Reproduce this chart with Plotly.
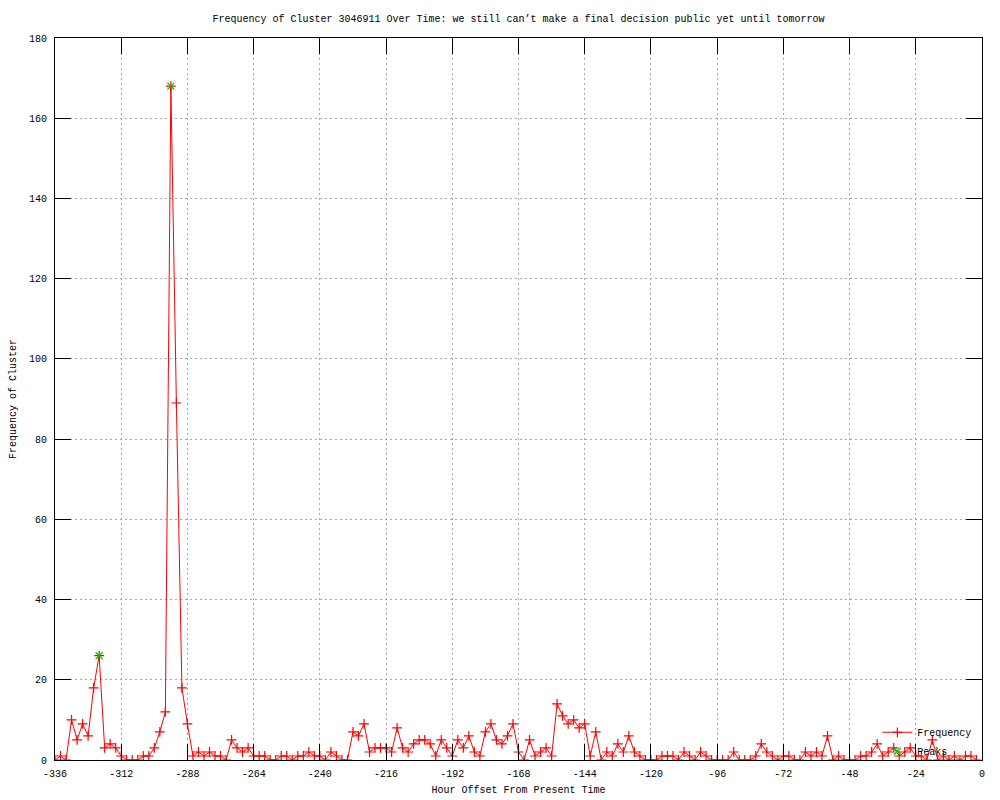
import plotly.graph_objects as go

# Hour offsets (every 2 hours) and observed frequencies
hours = list(range(-336, 0, 2))
frequency = [
    0, 1, 0, 10, 5, 9, 6, 18, 26, 3, 4, 3, 1, 0, 0, 0, 1, 1, 3, 7,
    12, 168, 89, 18, 9, 1, 2, 1, 2, 1, 1, 0, 5, 3, 2, 3, 1, 1, 1, 0,
    0, 1, 1, 0, 1, 1, 2, 1, 1, 0, 2, 1, 0, 0, 7, 6, 9, 2, 3, 3,
    3, 2, 8, 3, 2, 4, 5, 5, 4, 1, 5, 3, 1, 5, 3, 6, 2, 1, 7, 9,
    5, 4, 6, 9, 2, 0, 5, 1, 2, 3, 1, 14, 11, 9, 10, 8, 9, 1, 7, 0,
    2, 1, 4, 2, 6, 2, 1, 0, 0, 0, 1, 1, 1, 0, 2, 1, 0, 2, 1, 0,
    0, 0, 0, 2, 0, 0, 0, 1, 4, 2, 1, 0, 1, 1, 0, 0, 2, 1, 2, 1,
    6, 0, 1, 0, 0, 0, 1, 1, 2, 4, 1, 2, 3, 1, 2, 3, 1, 1, 0, 5,
    0, 1, 0, 1, 0, 1, 1, 0,
]
peak_hours = [-320, -294]
peak_values = [26, 168]

x_ticks = [-336, -312, -288, -264, -240, -216, -192, -168, -144, -120, -96, -72, -48, -24, 0]
y_ticks = [0, 20, 40, 60, 80, 100, 120, 140, 160, 180]

FONT = "Liberation Mono"
FS = 10

fig = go.Figure()
fig.add_trace(go.Scatter(
    x=hours, y=frequency, mode="lines+markers", name="Frequency",
    line=dict(color="#ff0000", width=1),
    marker=dict(symbol="cross-thin", size=7, line=dict(color="#ff0000", width=1.2), color="#ff0000"),
))
fig.add_trace(go.Scatter(
    x=peak_hours, y=peak_values, mode="markers", name="Peaks",
    marker=dict(symbol="x-thin", size=7, line=dict(color="#00c000", width=1.2), color="#00c000"),
))

axis_common = dict(
    showline=True, linecolor="black", linewidth=1, mirror="allticks",
    ticks="inside", ticklen=16, tickcolor="black", tickwidth=1,
    showgrid=True, gridcolor="#a8a8a8", gridwidth=1, griddash="2px,3px",
    zeroline=False, automargin=False,
    tickfont=dict(family=FONT, size=FS, color="black"),
)

fig.update_layout(
    width=1000, height=800,
    margin=dict(l=55, r=18, t=38, b=40, pad=0),
    paper_bgcolor="white", plot_bgcolor="white",
    font=dict(family=FONT, size=FS, color="black"),
    title=dict(
        text="Frequency of Cluster 3046911 Over Time: we still can\u2019t make a final decision public yet until tomorrow",
        x=0.5, xref="paper", xanchor="center",
        y=1 - 18 / 800, yref="container", yanchor="middle",
        font=dict(family=FONT, size=FS, color="black"),
    ),
    xaxis=dict(
        range=[-336, 0], tickvals=x_ticks, ticktext=[str(v) for v in x_ticks],
        title=dict(text="Hour Offset From Present Time", font=dict(family=FONT, size=FS), standoff=6),
        ticklabelstandoff=4,
        **axis_common,
    ),
    yaxis=dict(
        range=[0, 180], tickvals=y_ticks, ticktext=[str(v) for v in y_ticks],
        title=dict(text="Frequency of Cluster", font=dict(family=FONT, size=FS), standoff=10),
        ticklabelstandoff=5,
        **axis_common,
    ),
    legend=dict(
        x=0.995, y=-0.008, xanchor="right", yanchor="bottom",
        bgcolor="rgba(0,0,0,0)", borderwidth=0,
        font=dict(family=FONT, size=FS, color="black"),
        tracegroupgap=0, itemwidth=30,
    ),
    showlegend=True,
)

fig.write_html("out.html", config={"displayModeBar": False},
               post_script="document.body.style.margin='0';")
